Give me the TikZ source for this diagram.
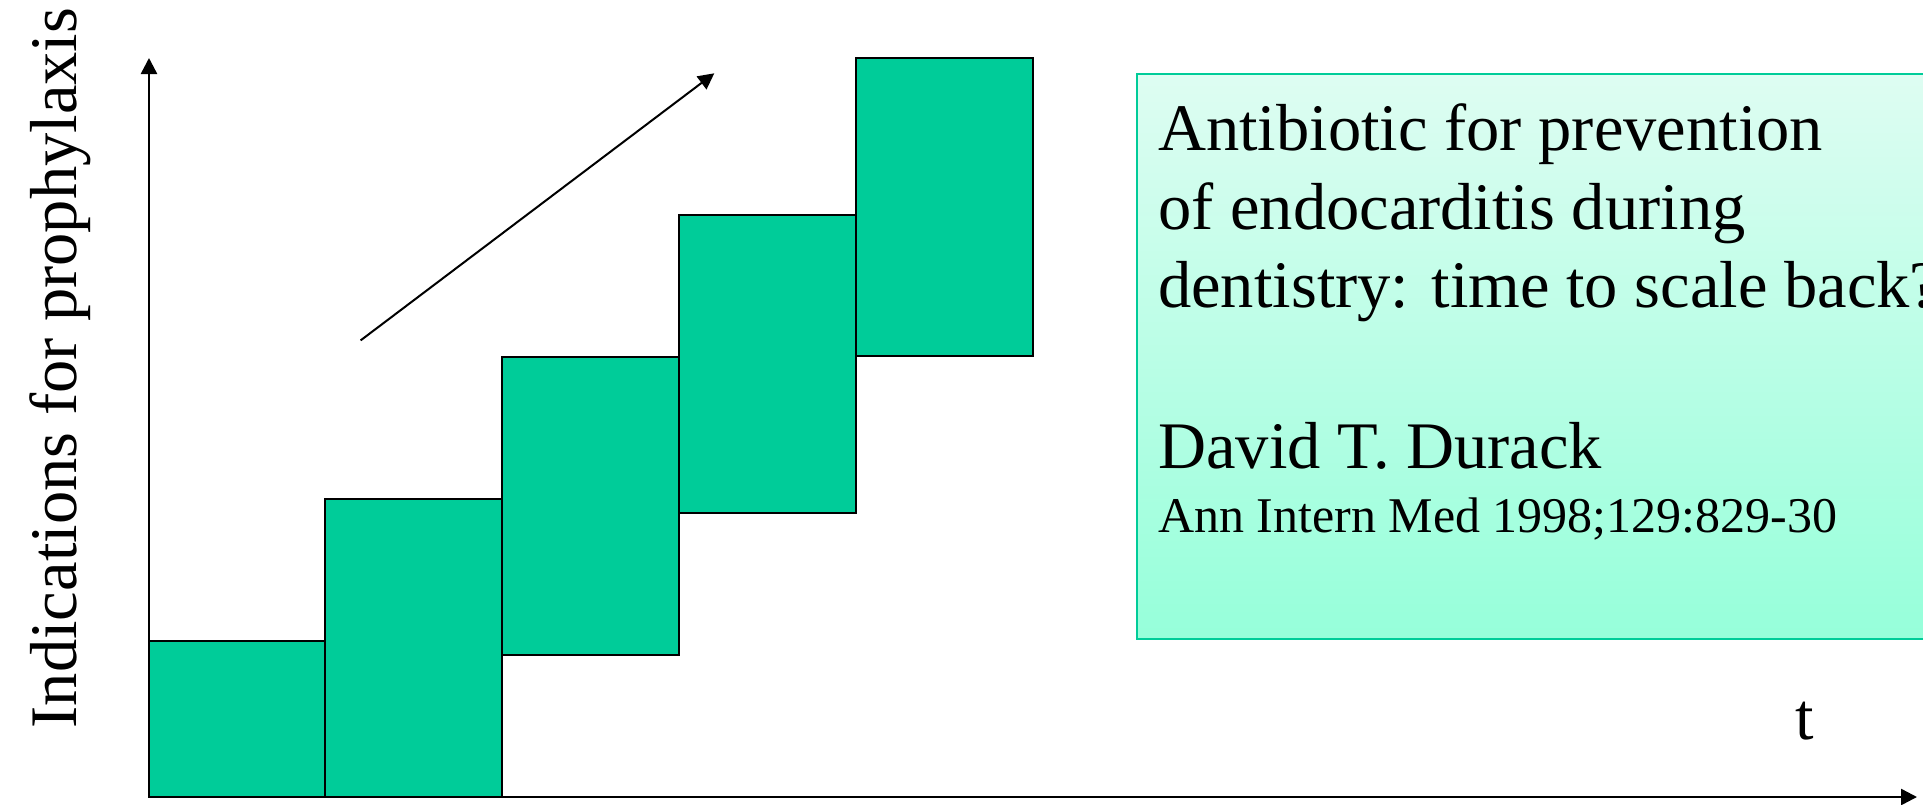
\documentclass[tikz,border=0pt]{standalone}
\usepackage{fontspec}
\setmainfont{Liberation Serif}
\usetikzlibrary{arrows.meta}
\definecolor{stepgreen}{RGB}{0,204,153}
\definecolor{boxtop}{RGB}{222,253,242}
\definecolor{boxbot}{RGB}{150,255,218}
\definecolor{boxedge}{RGB}{0,204,153}
\tikzset{
  stepbox/.style={draw=black, line width=2pt, fill=stepgreen},
  axisline/.style={draw=black, line width=2.5pt, -{Triangle[length=16pt,width=16pt]}},
  trendline/.style={draw=black, line width=2pt, -{Triangle[length=16pt,width=16pt]}},
  bigtext/.style={inner sep=0pt, anchor=base west, font=\fontsize{66.5}{79}\selectfont},
  smalltext/.style={inner sep=0pt, anchor=base west, font=\fontsize{50}{60}\selectfont},
}
\begin{document}
\begin{tikzpicture}[x=1pt,y=-1pt]
\useasboundingbox (0,0) rectangle (1923,804);
\clip (0,0) rectangle (1923,804);
% text box
\path[top color=boxtop, bottom color=boxbot, draw=boxedge, line width=2pt] (1137,74) rectangle (1990,639);
\node[bigtext] (l1) at (1158,150.4) {Antibiotic for prevention};
\node[bigtext] (l2) at (1158,229.3) {of endocarditis during};
\node[bigtext] (l3) at (1158,307.5) {dentistry: time to scale back?};
\node[bigtext] (l4) at (1158,468.8) {David T. Durack};
\node[smalltext] (l5) at (1158,532) {Ann Intern Med 1998;129:829-30};
% steps
\draw[stepbox] (149,641) rectangle (325.4,797);
\draw[stepbox] (325.4,498.6) rectangle (502.4,797);
\draw[stepbox] (502.4,356.7) rectangle (679.4,655.3);
\draw[stepbox] (679.4,215.4) rectangle (856.4,513.4);
\draw[stepbox] (856.4,57.6) rectangle (1033.3,356.3);
% axes
\coordinate (o) at (149,797);
\coordinate (ytop) at (149,58);
\coordinate (xend) at (1917,797);
\draw[axisline] (o) -- (ytop);
\draw[axisline] (o) -- (xend);
% trend arrow
\coordinate (ts) at (360.6,340.4);
\coordinate (te) at (714.3,73.3);
\draw[trendline] (ts) -- (te);
% labels
\node[bigtext] (tlab) at (1795,739.3) {t};
\node[inner sep=0pt, anchor=base, rotate=90, font=\fontsize{66.5}{79}\selectfont] (ylab) at (76,368) {Indications for prophylaxis};
\end{tikzpicture}
\end{document}
